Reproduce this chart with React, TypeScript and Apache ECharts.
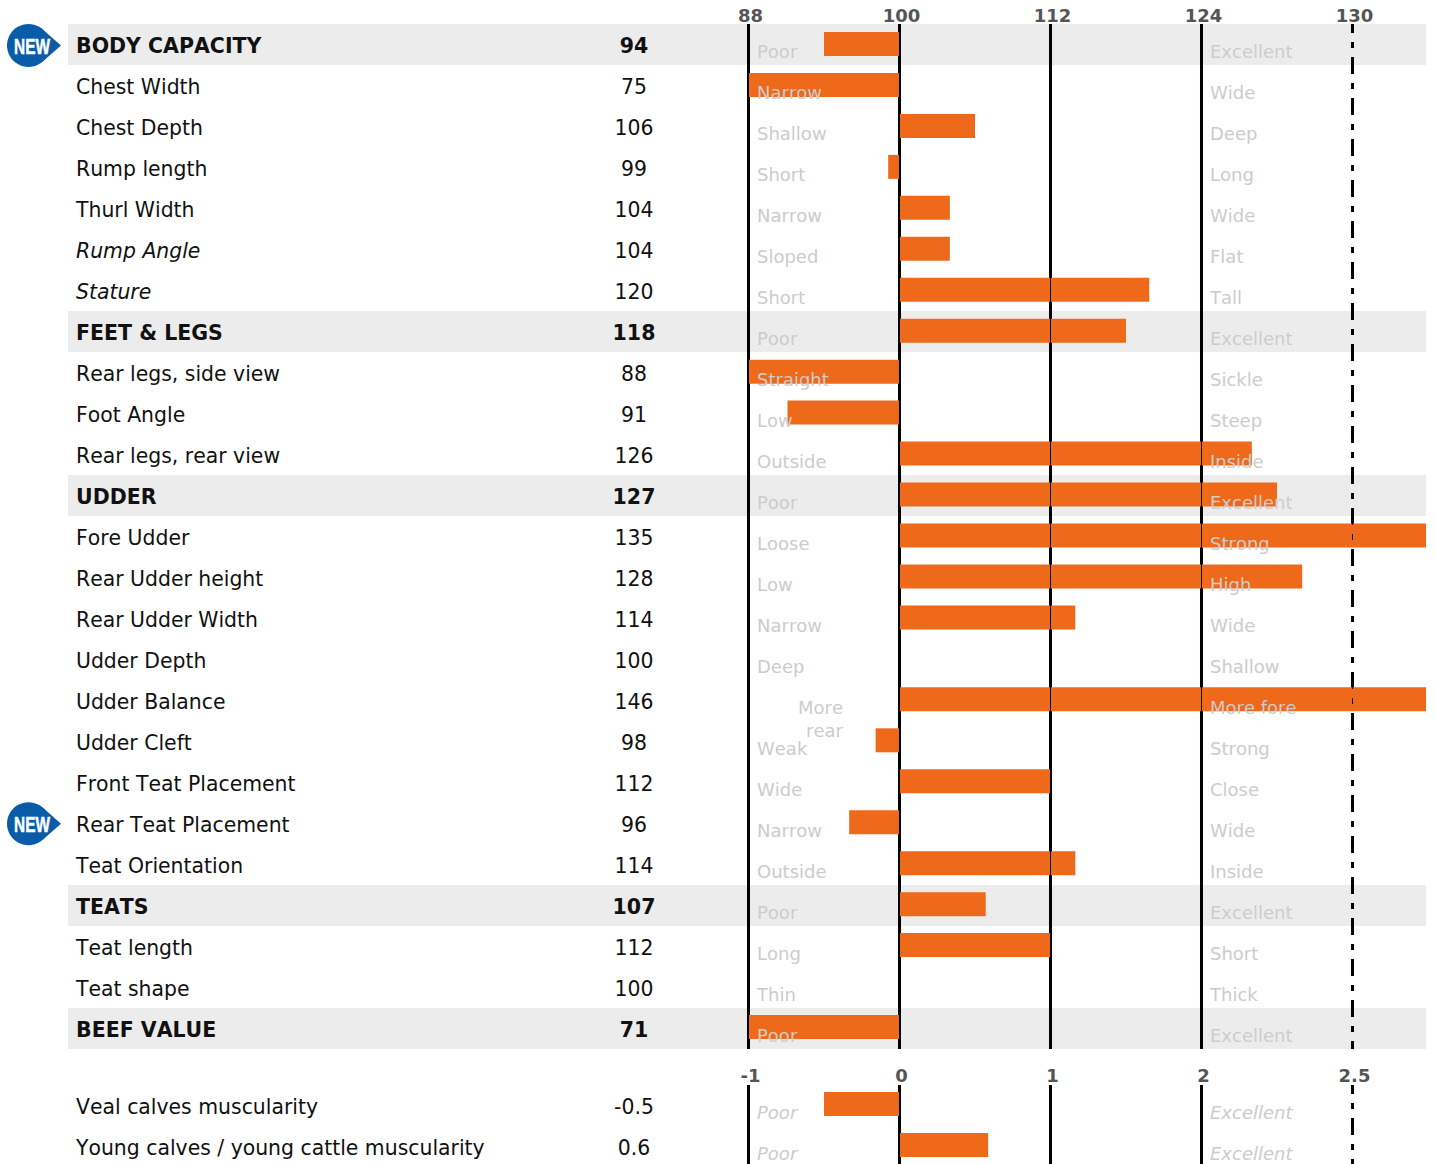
import React, { useEffect, useRef } from "react";
import * as echarts from "echarts";

const rowNames = ["BODY CAPACITY","Chest Width","Chest Depth","Rump length","Thurl Width","Rump Angle","Stature","FEET & LEGS","Rear legs, side view","Foot Angle","Rear legs, rear view","UDDER","Fore Udder","Rear Udder height","Rear Udder Width","Udder Depth","Udder Balance","Udder Cleft","Front Teat Placement","Rear Teat Placement","Teat Orientation","TEATS","Teat length","Teat shape","BEEF VALUE"];
const rowScores = ["94","75","106","99","104","104","120","118","88","91","126","127","135","128","114","100","146","98","112","96","114","107","112","100","71"];
// bar lengths as measured on the picture (the printed scores are rounded)
const barScores = [94,75,106,99.1,104,104,119.85,118,88,91.1,126,127,135,128,113.97,100,146,98.1,112,96,113.97,106.85,112,100,71];
const leftHints = ["Poor","Narrow","Shallow","Short","Narrow","Sloped","Short","Poor","Straight","Low","Outside","Poor","Loose","Low","Narrow","Deep","More\nrear","Weak","Wide","Narrow","Outside","Poor","Long","Thin","Poor"];
const rightHints = ["Excellent","Wide","Deep","Long","Wide","Flat","Tall","Excellent","Sickle","Steep","Inside","Excellent","Strong","High","Wide","Shallow","More fore","Strong","Close","Wide","Inside","Excellent","Short","Thick","Excellent"];
const groupRows = [0,7,11,21,24];
const italicRows = [5,6];
const newRows = [0,19];
const lowerNames = ["Veal calves muscularity","Young calves / young cattle muscularity"];
const lowerValueLabels = ["-0.5","0.6"];
const lowerValues = [-0.5,0.587];
const lowerLeftHints = ["Poor","Poor"];
const lowerRightHints = ["Excellent","Excellent"];
const tickPositions = [-1,0,1,2,3];
const dashedTick = 3;
const upperTickLabels = ["88","100","112","124","130"];
const lowerTickLabels = ["-1","0","1","2","2.5"];

// scores map to the axis units: 12 points per unit up to 124, then 6 points per unit
const toAxis = (score: number) => score <= 124 ? (score - 100) / 12 : 2 + (score - 124) / 6;

const FONT = "DejaVu Sans";
const BLUE = "#0A5CA8";
const ORANGE = "#EE6A1A";
const HINT = "#CCCCCC";
const DASH = [17, 9, 6, 9];

function tickAxis(gridIndex: number, labels: string[]) {
  return {
    type: "value", gridIndex, position: "top", min: -1, max: 3.4868, z: 6,
    axisLine: { show: false }, axisTick: { show: false }, splitLine: { show: false },
    axisLabel: {
      customValues: tickPositions,
      showMinLabel: true, showMaxLabel: true,
      formatter: (v: number) => labels[tickPositions.indexOf(v)] ?? "",
      fontFamily: FONT, fontSize: 18, fontWeight: "bold", color: "#555555",
      margin: -1, padding: [0, 0, 0, 4], align: "center", verticalAlign: "bottom",
    },
  };
}

function textAxis(gridIndex: number, data: string[], margin: number, align: string, top: boolean) {
  const base = { fontFamily: FONT, fontSize: 20.4, color: "#111111", padding: [5, 0, 0, 0] };
  return {
    type: "category", gridIndex, inverse: true, data, position: "left", z: 6,
    axisLine: { show: false }, axisTick: { show: false }, splitLine: { show: false },
    axisLabel: {
      interval: 0, margin, align, hideOverlap: false,
      formatter: (v: string, i: number) => {
        if (top && groupRows.includes(i)) return `{b|${v}}`;
        if (top && italicRows.includes(i) && align === "left") return `{i|${v}}`;
        return `{n|${v}}`;
      },
      rich: {
        b: { ...base, fontSize: 20.5, fontWeight: "bold" },
        i: { ...base, fontStyle: "italic" },
        n: base,
      },
    },
  };
}

function refLines(xAxisIndex: number, yAxisIndex: number, z: number, lineWidth: number, startOffset: number, name: string) {
  return {
    type: "custom", name, xAxisIndex, yAxisIndex, z, silent: true, clip: false,
    encode: { x: 0, y: 1 },
    data: tickPositions.map((t) => [t, 0]),
    renderItem: (params: any, api: any) => {
      const x = api.coord([api.value(0), 0])[0];
      const cs = params.coordSys;
      const dashed = api.value(0) === dashedTick;
      return {
        type: "line",
        shape: { x1: x, y1: cs.y + startOffset, x2: x, y2: cs.y + cs.height + 1.5 },
        style: {
          stroke: "#000000", lineWidth,
          lineDash: dashed ? DASH : undefined,
          lineDashOffset: dashed ? 8 : 0,
        },
      };
    },
  };
}

function hintSeries(xAxisIndex: number, yAxisIndex: number, anchor: number, hints: string[], fontStyle: string) {
  return {
    type: "scatter", xAxisIndex, yAxisIndex, z: 5, silent: true,
    symbolSize: 0, itemStyle: { color: "transparent", opacity: 1 },
    label: {
      show: true, position: "right", distance: 8.5, offset: [0, 8], opacity: 1,
      fontFamily: FONT, fontSize: 18, fontStyle, color: HINT,
      formatter: (p: any) => p.value[2],
    },
    data: hints.map((h, i) => h.includes("\n")
      ? { value: [anchor, i, h], label: { align: "right", verticalAlign: "top", lineHeight: 23, offset: [86, -3.5] } }
      : { value: [anchor, i, h] }),
  };
}

export default function App() {
  const ref = useRef<HTMLDivElement>(null);
  useEffect(() => {
    document.body.style.margin = "0";
    const chart = echarts.init(ref.current!, undefined, { renderer: "svg" });
    chart.setOption({
      animation: false,
      backgroundColor: "#FFFFFF",
      grid: [
        { left: 748.5, top: 23.5, width: 677.5, height: 1024, containLabel: false },
        { left: 748.5, top: 1083.5, width: 677.5, height: 82, containLabel: false },
      ],
      xAxis: [tickAxis(0, upperTickLabels), tickAxis(1, lowerTickLabels)],
      yAxis: [
        textAxis(0, rowNames, 672.5, "left", true),
        textAxis(0, rowScores, 114.5, "center", true),
        textAxis(1, lowerNames, 672.5, "left", false),
        textAxis(1, lowerValueLabels, 114.5, "center", false),
      ],
      series: [
        {
          type: "custom", name: "bands", xAxisIndex: 0, yAxisIndex: 0, z: 0, silent: true, clip: false,
          encode: { x: 0, y: 1 },
          data: groupRows.map((r) => [0, r]),
          renderItem: (_: any, api: any) => {
            const row = api.value(1);
            const cy = api.coord([0, row])[1];
            return { type: "rect", shape: { x: 68, y: Math.round(cy - 20 + row * 0.04), width: 1358, height: 41 }, style: { fill: "#ECECEC" } };
          },
        },
        refLines(0, 0, 1, 3, 0.5, "lines"),
        refLines(1, 2, 1, 3, 1.5, "lowerLines"),
        { type: "bar", name: "scores", xAxisIndex: 0, yAxisIndex: 0, z: 2, barWidth: 24, silent: true,
          itemStyle: { color: ORANGE }, data: barScores.map(toAxis) },
        { type: "bar", name: "muscularity", xAxisIndex: 1, yAxisIndex: 2, z: 2, barWidth: 24, silent: true,
          itemStyle: { color: ORANGE }, data: lowerValues },
        refLines(0, 0, 3, 1, 0.5, "linesOver"),
        refLines(1, 2, 3, 1, 1.5, "lowerLinesOver"),
        hintSeries(0, 0, -1, leftHints, "normal"),
        hintSeries(0, 0, 2, rightHints, "normal"),
        hintSeries(1, 2, -1, lowerLeftHints, "italic"),
        hintSeries(1, 2, 2, lowerRightHints, "italic"),
        {
          type: "custom", name: "badges", xAxisIndex: 0, yAxisIndex: 0, z: 6, silent: true, clip: false,
          encode: { x: 0, y: 1 },
          data: newRows.map((r) => [0, r]),
          renderItem: (_: any, api: any) => {
            const cy = api.coord([0, api.value(1)])[1] + 1.5;
            return {
              type: "group",
              children: [
                { type: "circle", shape: { cx: 28.5, cy, r: 21.5 }, style: { fill: BLUE } },
                { type: "polygon", shape: { points: [[61, cy], [42.7, cy - 16.1], [42.7, cy + 16.1]] }, style: { fill: BLUE } },
                {
                  type: "text", x: 32, y: cy + 0.5, scaleX: 0.7,
                  style: { text: "NEW", fill: "#FFFFFF", stroke: "#FFFFFF", lineWidth: 0.5, font: "bold 22px 'Liberation Sans'", align: "center", verticalAlign: "middle" },
                },
              ],
            };
          },
        },
      ],
    });
    return () => chart.dispose();
  }, []);
  return (
    <div style={{ width: 1435, height: 1164, overflow: "hidden" }}>
      <div ref={ref} style={{ width: 1435, height: 1172, fontKerning: "none" }} />
    </div>
  );
}
